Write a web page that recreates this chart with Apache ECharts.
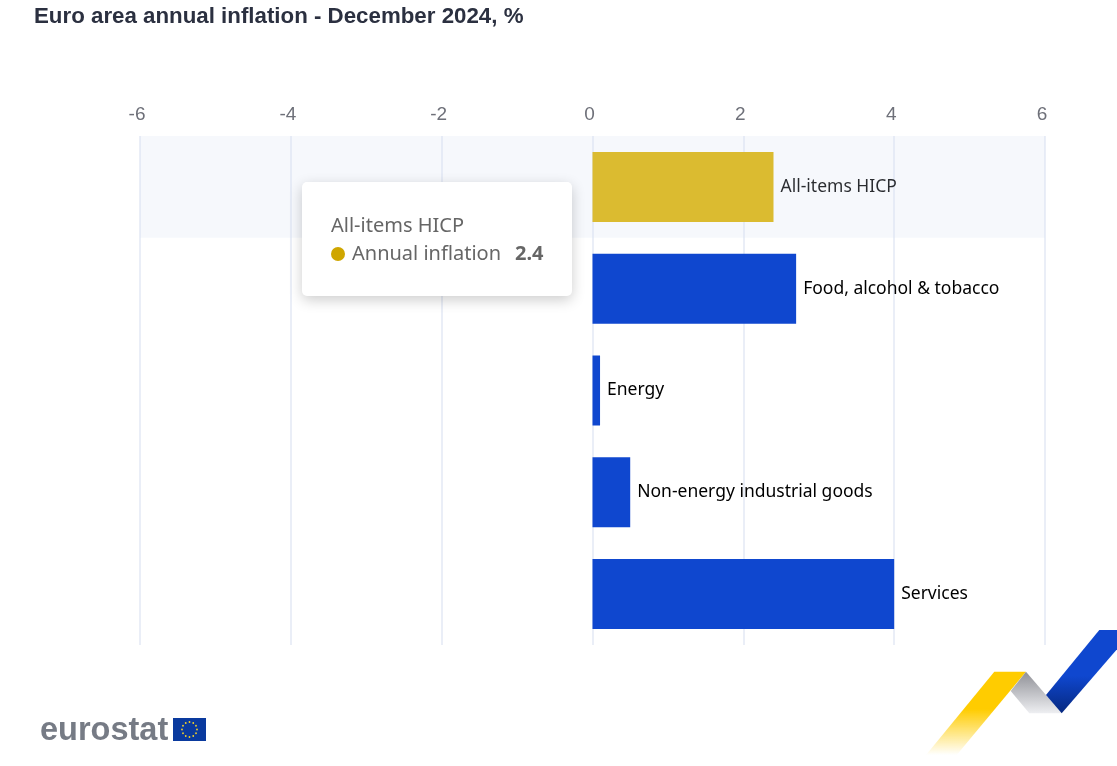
<!DOCTYPE html>
<html>
<head>
<meta charset="utf-8">
<title>Euro area annual inflation</title>
<script src="https://cdn.jsdelivr.net/npm/echarts@6/dist/echarts.min.js"></script>
<style>
html,body{margin:0;padding:0;background:#fff;}
#main{width:1117px;height:766px;}
</style>
</head>
<body>
<div id="main"></div>
<script>
var categories = ['All-items HICP', 'Food, alcohol & tobacco', 'Energy', 'Non-energy industrial goods', 'Services'];
var values = [2.4, 2.7, 0.1, 0.5, 4.0];
var seriesName = 'Annual inflation';
var headline = 'All-items HICP';

var labelFont = '"Noto Sans", sans-serif';
var axisFont = '"Liberation Sans", Arial, sans-serif';

function stars(cx, cy, r){
	var list = [];
	for(var i = 0 ; i < 12 ; i++){
		var a = i * Math.PI / 6;
		list.push({
			type: 'circle',
			shape: {cx: cx + r * Math.cos(a), cy: cy + r * Math.sin(a), r: 0.9},
			style: {fill: '#f5d327'},
			silent: true
		});
	}
	return list;
}

function tipHtml(params){
	var p = params[0];
	return '<div style="line-height:28px;white-space:nowrap;margin:-1px 0;">'
		+ '<div>' + p.name + '</div>'
		+ '<div><span style="display:inline-block;width:14px;height:14px;border-radius:50%;background:' + p.color + ';margin-right:7px;vertical-align:-1px;"></span>'
		+ p.seriesName
		+ '<b style="margin-left:14px;">' + p.value + '</b></div></div>';
}

var chart = echarts.init(document.getElementById('main'));
chart.setOption({
	animation: false,
	title: {
		text: 'Euro area annual inflation - December 2024, %',
		left: 29,
		top: 1,
		textStyle: {fontFamily: axisFont, fontSize: 22.3, fontWeight: 'bold', color: '#2b3040'}
	},
	grid: {left: 140, right: 72, top: 136, bottom: 121},
	tooltip: {
		trigger: 'axis',
		axisPointer: {type: 'shadow', shadowStyle: {color: 'rgba(210,219,238,0.2)'}},
		position: [302, 182],
		alwaysShowContent: true,
		backgroundColor: '#fff',
		borderWidth: 0,
		padding: [30, 28, 30, 29],
		extraCssText: 'border-radius:5px;box-shadow:0 4px 14px rgba(0,0,0,0.2);',
		textStyle: {fontFamily: labelFont, fontSize: 20, color: '#666'},
		formatter: tipHtml
	},
	xAxis: {
		type: 'value',
		position: 'top',
		min: -6,
		max: 6,
		interval: 2,
		axisLine: {show: false},
		axisTick: {show: false},
		axisLabel: {
			fontFamily: axisFont,
			fontSize: 19,
			color: '#6e7079',
			margin: 12,
			padding: [0, 6, 0, 0]
		},
		splitLine: {lineStyle: {color: '#e3e9f4', width: 1.5}}
	},
	yAxis: {
		type: 'category',
		inverse: true,
		data: categories,
		axisLine: {show: false},
		axisTick: {show: false},
		axisLabel: {show: false},
		splitLine: {show: false}
	},
	series: [{
		name: seriesName,
		type: 'bar',
		barWidth: 70,
		data: values.map(function(v, i){
			var isHead = categories[i] === headline;
			return {
				value: v,
				itemStyle: {color: isHead ? '#cfa600' : '#0f47cf'},
				emphasis: {itemStyle: {color: isHead ? '#deb300' : '#0f47cf'}}
			};
		}),
		label: {
			show: true,
			position: 'right',
			distance: 7,
			fontFamily: labelFont,
			fontSize: 17.5,
			color: '#000',
			formatter: '{b}'
		}
	}],
	graphic: [
		{type: 'text', silent: true, left: 40, top: 715, style: {text: 'eurostat', fill: '#767b85', font: 'bold 32.5px "Liberation Sans", Arial, sans-serif'}},
		{type: 'rect', silent: true, shape: {x: 173, y: 718, width: 33, height: 23}, style: {fill: '#0a3a9e'}},
		{type: 'group', silent: true, children: stars(189.5, 729.5, 7.5)},
		{type: 'polygon', silent: true, shape: {points: [[994.3, 671.7], [1026, 671.7], [956.7, 755], [926, 755]]},
			style: {fill: new echarts.graphic.LinearGradient(0, 1, 0, 0, [
				{offset: 0, color: 'rgba(255,204,0,0)'},
				{offset: 0.55, color: '#ffcc00'},
				{offset: 1, color: '#ffcc00'}
			])}},
		{type: 'polygon', silent: true, shape: {points: [[1026, 671.7], [1061.7, 713.3], [1029.3, 713.3], [1010.7, 691]]},
			style: {fill: new echarts.graphic.LinearGradient(0, 0, 0, 1, [
				{offset: 0, color: '#8f9096'},
				{offset: 1, color: '#eeeff2'}
			])}},
		{type: 'polygon', silent: true, shape: {points: [[1099.3, 630], [1117, 630], [1117, 649.3], [1061.7, 713.3], [1046, 695]]},
			style: {fill: new echarts.graphic.LinearGradient(0, 0, 0, 1, [
				{offset: 0, color: '#0f47cf'},
				{offset: 0.55, color: '#0f47cf'},
				{offset: 1, color: '#06287f'}
			])}}
	]
});

chart.dispatchAction({type: 'showTip', seriesIndex: 0, dataIndex: 0});
chart.dispatchAction({type: 'highlight', seriesIndex: 0, dataIndex: 0});
</script>
</body>
</html>
